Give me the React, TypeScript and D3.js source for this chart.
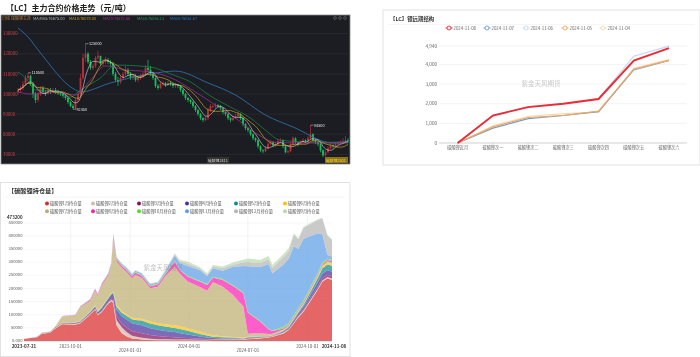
import React from "react";
import * as d3 from "d3";

// ---------- Panel 1: candles (thousand yuan per ton) ----------
const closes = [102,103,105,108,109,105,100,97,100,103,101,100,102,101.5,102,101,100.5,100,99,98,96,94,93,97,100,108,118,120,116,113,114,118,119,115,116,117,116,115,110,107,106,108,110,112,110,108,109,107,108,109,110,113,112,110,108,104,103,105,105.5,104.5,105.5,105,104,104.5,104,102,100,98,97,96,94,92,90,88,87,88,92,94,94,94.5,94,93,91,90,88,87,88,89,90,88,85,83,82,80,78,77,74,72,71.5,73,75,76,74.5,75,76.5,77,74,71,71.5,75,78,76,75,76,77,76.5,78,80,77,76,75,72,69.5,71,73,74.5,74,75,75.5,76,76.5,77,76.5];
const opens = [101,102,103,105,108,109,105,100,97,100,103,101,100,102,101,102,101,100.5,100,99,98,96,94,93,97,100,108,118,120,116,113,114,118,119,115,116,117,116,115,110,107,106,108,110,112,110,108,109,107,108,109,110,113,112,110,108,104,103,105,105.5,104.5,105.5,105,104,104.5,104,102,100,98,97,96,94,92,90,88,87,88,92,94,94,94.5,94,93,91,90,88,87,88,89,90,88,85,83,82,80,78,77,74,72,71.5,73,75,76,74.5,75,76.5,77,74,71,71.5,75,78,76,75,76,77,76.5,78,80,77,76,75,72,69.5,71,73,74.5,74,75,75.5,76,76.5,77];
const highs = [103,104,106.5,109.5,110.5,109.5,106,101,101,104,104,102,103,103,103,103,102,101,100.5,100,98.5,96.5,95,98,101,110,120,125,121,117,115,119,121.5,119,117.5,118.5,118,117,116,111,108.5,109,111,114,113,111,110,110,109,110,111,114.5,117,114,111,109,105,106,106.5,106,106.5,106.5,105.5,105.5,105,104.5,102.5,100.5,98.5,97.5,96.5,94.5,92.5,90.5,88.5,89,93,95,95,95.5,95,94.5,93.5,91.5,90.5,88.5,89,90,91,90.5,88.5,85.5,83.5,82.5,80.5,78.5,77.5,74.5,72.5,74,76,77,76.5,76,77.5,78,77.5,74.5,72,76,79,78.5,76,77,78,77.5,79,84.5,80.5,77.5,76.5,75.5,72.5,72,74,75.5,75,76,76.5,77,78,79,78];
const lows = [100,101,102,104,107,104,98,95.5,96,99,100,99,100,100,100.5,100,99.5,99,98,97,95,93.5,92.45,92.5,96,99,107,116,115,112,112,113,117,114,114,115,115,114,109,106,104,105,107,109,109,107,107,106,106,107,108,109,111,109,107,103,102,102.5,104,103.5,104,104,103,103,103,101,99,97,96,95,93,91,89,87,86,86.5,87,91,93,93,93,92,90,89,87,86,86.5,87.5,88,87,84,82,81,79,77,76,73,71,70.5,71,72.5,74.5,73.5,73.5,74.5,76,73,70.5,70.5,71,74.5,75,74,75,76,75.5,76,77,76,75,74,71,68.6,69,70.5,72.5,73,73.5,74.5,75,75.5,76,75.5];
// [candle index, value]
const ma60: [number, number][] = [[0,132.8],[4,128.4],[8,122],[23,102],[25,101],[37,105.5],[53,110],[63,111.4],[76,105.5],[87,99.5],[99,89.5],[110,83.6],[126,75.6],[132,76.6]];
const ma30: [number, number][] = [[0,111],[3,108],[7,102],[13,101.5],[21,98.5],[25,102],[33,108],[39,114.4],[53,113.4],[61,110],[69,106],[77,99],[85,93.5],[93,88],[99,82],[105,77],[121,76],[132,76]];
const ma20: [number, number][] = [[0,101],[5,100],[15,101],[23,99.5],[29,107],[35,114],[43,112],[53,111],[63,107],[71,101],[79,94.5],[87,88],[95,80.6],[103,76],[113,75.6],[132,75.6]];
const priceTicks = [130, 120, 110, 100, 90, 80, 70];
const maLegend = ["MA:MA5:76675.00", "MA10:76078.00", "MA20:74572.50", "MA30:75053.13", "MA60:75051.67"];
const priceNotes: [number, number, string][] = [[4, 110.5, "110500"], [27, 125, "125000"], [22, 92.45, "92450"], [117, 84.5, "84500"]];

// ---------- Panel 2: forward curve ----------
const curveCategories = ["碳酸锂近月", "碳酸锂次一", "碳酸锂次二", "碳酸锂次三", "碳酸锂次四", "碳酸锂次五", "碳酸锂次六"];
const curveTicks = [0, 1000, 2000, 3000, 4000, 4940];
const curve1108 = [0, 1400, 1830, 2000, 2240, 4200, 4830];
const curve1107 = [0, 760, 1240, 1400, 1600, 3720, 4200];
const curve1106 = [0, 1420, 1850, 2010, 2260, 4420, 4930];
const curve1105 = [0, 820, 1300, 1400, 1620, 3760, 4210];
const curve1104 = [0, 880, 1350, 1500, 1570, 3800, 4250];
const curveNames = ["2024-11-08", "2024-11-07", "2024-11-06", "2024-11-05", "2024-11-04"];

// ---------- Panel 3: open interest stack (thousand lots) ----------
const oiDates = ["2023-07-21","2023-08-10","2023-08-18","2023-08-30","2023-09-07","2023-09-18","2023-10-08","2023-10-16","2023-10-31","2023-11-08","2023-11-12","2023-11-18","2023-11-28","2023-12-03","2023-12-06","2023-12-11","2023-12-19","2023-12-27","2024-01-04","2024-01-09","2024-01-19","2024-02-01","2024-02-13","2024-02-24","2024-03-10","2024-03-18","2024-03-30","2024-04-18","2024-04-29","2024-05-08","2024-05-23","2024-06-08","2024-06-24","2024-07-01","2024-07-20","2024-08-02","2024-08-08","2024-08-25","2024-09-02","2024-09-10","2024-09-17","2024-09-25","2024-10-17","2024-10-24","2024-11-01","2024-11-08"];
const oiRows: number[][] = [
[8.5,1,0,.5,0,0,0,0,0,0,0,0],[14,1.5,0,1,0,0,0,0,0,0,0,0],[28,2,0,1,.5,.5,0,0,0,0,0,0],[31,2,0,1,1,.5,.5,0,0,0,0,0],[47,3,.5,1.5,.5,1,1.5,0,0,0,0,0],[64,3,.5,2,1,1.5,22.5,.5,0,0,0,0],
[62,3,.5,3,1,2,26,1.5,.5,.5,0,0],[68,3,.5,3,1,2,52,2.5,.5,.5,0,0],[100,3,1,5,1,2,41,4,1,1,0,0],[120,3,1,7,2,3,57,5,1,1,0,0],[98,3,1,8,2,3,58,5,1,1,0,0],[110,3,2,10,3,3,81,5,1,2,0,0],
[142,4,2,12,3,3,83,6,1,2,0,0],[152,5,4,16,3,3,105,7,2,3,0,0],[145,8,6,22,4,4,205,10,3,4,1,1],[60,20,15,25,12,6,165,8,3,4,1,1],[30,22,15,27,14,6,165,8,3,5,1,1],[17,16,18,30,14,6,160,8,3,5,2,1],
[10,10,18,30,15,6,150,8,3,5,2,1],[9,8,18,30,15,6,166,8,3,5,2,1],[6,6,18,30,18,7,156,8,3,5,2,1],[4,5,14,26,18,8,126,8,3,5,2,1],[3,4,12,24,17,8,139,8,3,5,2,1],[3,4,9,22,17,9,182,8,3,8,3,2],
[3,3,8,20,16,10,223,20,3,20,5,4],[3,3,6,18,16,10,200,14,3,24,7,5],[3,3,5,14,14,10,178,18,3,38,10,7],[3,2,4,8,10,8,171,20,3,42,6,4],[3,2,3,5,8,6,165,22,3,30,6,5],[4,2,2,3,5,6,202,18,3,32,7,6],
[4,2,1,3,4,4,190,25,3,32,9,7],[5,2,1,2,3,2,160,35,3,70,8,8],[5,2,1,1,1,2,120,50,4,100,14,10],[7,2,1,2,2,2,12,80,3,174,16,14],[10,2,1,2,2,1,12,44,3,205,15,12],[13,2,1,1,1,1,8,18,2,247,18,12],
[16,2,1,1,1,1,6,10,2,218,20,12],[29,3,2,3,2,2,3,4,6,238,28,12],[42,3,2,4,3,2,3,4,6,245,28,12],[67,3,3,6,4,3,2,4,7,262,45,5],[90,4,4,8,5,3,2,4,6,226,36,4],[112,4,5,10,7,3,3,5,6,235,42,4],
[195,5,8,16,16,5,4,5,6,151,50,3],[226,5,8,18,20,6,4,5,6,110,60,2],[239,5,8,18,22,8,4,5,5,15,73,2],[233,5,9,18,22,8,4,5,5,12,65,2],
];
const oiNames = ["碳酸锂1月持仓量","碳酸锂2月持仓量","碳酸锂3月持仓量","碳酸锂4月持仓量","碳酸锂5月持仓量","碳酸锂6月持仓量","碳酸锂7月持仓量","碳酸锂8月持仓量","碳酸锂10月持仓量","碳酸锂11月持仓量","碳酸锂12月持仓量","碳酸锂9月持仓量"];
const oiColors = ["#d92b2b","#d3bba6","#8b0f5f","#4b32a0","#0f8c96","#ffc000","#bdae72","#ff1fb4","#55dd22","#5da0e6","#b5b5b5","#b9dbab"];
const oiTicks = [0, 50, 100, 150, 200, 250, 300, 350, 400, 450];
const oiDateTicks = ["2023-10-01", "2024-01-01", "2024-04-01", "2024-07-01", "2024-10-01"];

const FONT = "'Noto Sans CJK SC', 'Noto Sans', sans-serif";

function Candles() {
  const y = d3.scaleLinear().domain([100, 130]).range([94, 33.7]);
  const x = d3.scaleLinear().domain([0, 132]).range([18, 348]);
  const line = d3.line<[number, number]>().x((d) => x(d[0])).y((d) => y(d[1])).curve(d3.curveMonotoneX);
  const rolling = (n: number): [number, number][] =>
    closes.map((_, i) => [i, d3.mean(closes.slice(Math.max(0, i - n + 1), i + 1)) as number]);
  const legendX = [33, 69, 103, 137, 170];
  const legendC = ["#b9b9b0", "#c9a21f", "#b0309a", "#1fa060", "#2e78b8"];
  return (
    <g>
      <rect x={1} y={15} width={349} height={149} fill="#1c1d22" stroke="#8a8a8a" strokeWidth={0.8} />
      {priceTicks.map((t) => (
        <g key={t}>
          <line x1={1} x2={350} y1={y(t)} y2={y(t)} stroke="#303137" strokeWidth={0.6} />
          <text x={3} y={y(t) + 1.6} fontSize={4.4} fill="#c24040" fontFamily={FONT}>{t * 1000}</text>
        </g>
      ))}
      <text x={2} y={19.5} fontSize={4} fill="#b5763a" fontFamily={FONT}>日线 碳酸锂主连</text>
      {maLegend.map((m, i) => (
        <text key={m} x={legendX[i]} y={19.5} fontSize={3.9} fill={legendC[i]} fontFamily={FONT}>{m}</text>
      ))}
      {closes.map((c, i) => {
        const o = opens[i] ?? c;
        const up = c >= o;
        const col = up ? "#b8323c" : "#18c060";
        const top = y(Math.max(o, c));
        const h = Math.max(0.7, Math.abs(y(o) - y(c)));
        return (
          <g key={i}>
            <line x1={x(i)} x2={x(i)} y1={y(highs[i] ?? Math.max(o, c))} y2={y(lows[i] ?? Math.min(o, c))} stroke={col} strokeWidth={0.7} />
            <rect x={x(i) - 0.9} y={top} width={1.8} height={h} fill={col} />
          </g>
        );
      })}
      <path d={line(ma60) as string} fill="none" stroke="#2a6ea8" strokeWidth={0.9} />
      <path d={line(ma30) as string} fill="none" stroke="#1c8a50" strokeWidth={0.7} />
      <path d={line(ma20) as string} fill="none" stroke="#a8309a" strokeWidth={0.7} />
      <path d={line(rolling(10)) as string} fill="none" stroke="#c9a21f" strokeWidth={0.7} />
      <path d={line(rolling(5)) as string} fill="none" stroke="#d8d8d8" strokeWidth={0.6} />
      {priceNotes.map(([i, v, s]) => (
        <g key={s}>
          <line x1={x(i)} x2={x(i) + 3} y1={y(v)} y2={y(v)} stroke="#ddd" strokeWidth={0.5} />
          <text x={x(i) + 3.5} y={y(v) + 1.4} fontSize={3.8} fill="#e4e4e4" fontFamily={FONT}>{s}</text>
        </g>
      ))}
      <rect x={207} y={157} width={22} height={6} fill="#333" />
      <text x={208} y={161.6} fontSize={3.8} fill="#cfcfcf" fontFamily={FONT}>碳酸锂2411</text>
      <rect x={325} y={157} width={23} height={6} fill="#8a7418" />
      <text x={326} y={161.6} fontSize={3.8} fill="#f2cf3a" fontFamily={FONT}>碳酸锂2501</text>
      {[335, 340, 345].map((cx) => (
        <circle key={cx} cx={cx} cy={18} r={1.4} fill="none" stroke="#777" strokeWidth={0.6} />
      ))}
    </g>
  );
}

function Curve() {
  const x = d3.scalePoint<string>().domain(curveCategories).range([457.7, 669]);
  const y = d3.scaleLinear().domain([0, 4940]).range([143, 46]);
  const line = d3.line<number>().x((_, i) => x(curveCategories[i]) as number).y((d) => y(d));
  const series = [
    { name: curveNames[4], v: curve1104, c: "#fbd5ad", w: 1.2 },
    { name: curveNames[2], v: curve1106, c: "#c6d6f0", w: 1.2 },
    { name: curveNames[1], v: curve1107, c: "#6a9fd0", w: 1.2 },
    { name: curveNames[3], v: curve1105, c: "#f0a860", w: 1.2 },
    { name: curveNames[0], v: curve1108, c: "#ee2a36", w: 1.9 },
  ];
  const legend = [series[4], series[2], series[1], series[3], series[0]];
  const legendX = [449, 487, 526, 565, 603];
  return (
    <g>
      <rect x={383} y={10} width={317} height={155} fill="#fff" stroke="#e2e2e2" strokeWidth={1} />
      <text x={390} y={20.5} fontSize={5.4} fontWeight={700} fill="#333" fontFamily={FONT}>【LC】锂远期结构</text>
      <line x1={388} x2={695} y1={24.5} y2={24.5} stroke="#f0f0f0" strokeWidth={0.6} />
      {legend.map((s, i) => (
        <g key={s.name}>
          <line x1={legendX[i] - 3.5} x2={legendX[i] + 3.5} y1={28} y2={28} stroke={s.c} strokeWidth={1} />
          <circle cx={legendX[i]} cy={28} r={2} fill="#fff" stroke={s.c} strokeWidth={0.9} />
          <text x={legendX[i] + 4.5} y={29.6} fontSize={4.4} fill="#666" fontFamily={FONT}>{s.name}</text>
        </g>
      ))}
      {curveTicks.map((t) => (
        <g key={t}>
          <line x1={439} x2={687} y1={y(t)} y2={y(t)} stroke={t === 0 ? "#bbb" : "#eee"} strokeWidth={0.7} />
          <text x={437} y={y(t) + 1.6} textAnchor="end" fontSize={4.6} fill="#666" fontFamily={FONT}>{d3.format(",")(t)}</text>
        </g>
      ))}
      <text x={541} y={85.5} textAnchor="middle" fontSize={6.5} fill="#c9c9c9" fontFamily={FONT}>紫金天风期货</text>
      {curveCategories.map((c) => (
        <g key={c}>
          <line x1={x(c)} x2={x(c)} y1={143} y2={145} stroke="#bbb" strokeWidth={0.5} />
          <text x={x(c)} y={149} textAnchor="middle" fontSize={4.2} fill="#666" fontFamily={FONT}>{c}</text>
        </g>
      ))}
      {series.map((s) => (
        <path key={s.name} d={line(s.v) as string} fill="none" stroke={s.c} strokeWidth={s.w} />
      ))}
    </g>
  );
}

function Stack() {
  const parse = d3.utcParse("%Y-%m-%d");
  const dates = oiDates.map((d) => parse(d) as Date);
  const x = d3.scaleUtc().domain([dates[0], dates[dates.length - 1]]).range([24, 332]);
  const y = d3.scaleLinear().domain([0, 450]).range([341, 223]);
  const keys = d3.range(oiNames.length);
  const stacked = d3.stack<number[], number>().keys(keys).value((row, k) => row[k])(oiRows);
  const area = d3.area<d3.SeriesPoint<number[]>>()
    .x((_, i) => x(dates[i])).y0((d) => y(d[0])).y1((d) => y(d[1]));
  const legendX = [47, 93, 139, 187, 236, 285];
  const rows = [[0, 1, 2, 3, 4, 5], [6, 7, 8, 9, 10, 11]];
  return (
    <g>
      <rect x={0.5} y={182.5} width={349.5} height={174} fill="#fff" stroke="#e2e2e2" strokeWidth={1} />
      <text x={8} y={193} fontSize={6.2} fontWeight={700} fill="#333" fontFamily={FONT}>【碳酸锂持仓量】</text>
      <line x1={5} x2={345} y1={197} y2={197} stroke="#eee" strokeWidth={0.6} />
      {rows.map((r, ri) =>
        r.map((k, ci) => (
          <g key={k}>
            <circle cx={legendX[ci]} cy={203.5 + ri * 7.8} r={2} fill={oiColors[k]} />
            <text x={legendX[ci] + 3} y={205 + ri * 7.8} fontSize={4.2} fill="#555" fontFamily={FONT}>{oiNames[k]}</text>
          </g>
        ))
      )}
      {oiTicks.map((t) => (
        <g key={t}>
          <line x1={24} x2={332} y1={y(t)} y2={y(t)} stroke="#eeeeee" strokeWidth={0.5} />
          <text x={22.5} y={y(t) + 1} textAnchor="end" fontSize={4.2} fill="#555" fontFamily={FONT}>{t === 0 ? "0.000" : `${t}000`}</text>
        </g>
      ))}
      <text x={22.5} y={218.5} textAnchor="end" fontSize={4.4} fontWeight={700} fill="#333" fontFamily={FONT}>473200</text>
      {oiDateTicks.map((d, i) => {
        const dx = x(parse(d) as Date);
        return (
          <g key={d}>
            <line x1={dx} x2={dx} y1={216} y2={341} stroke="#e6e6e6" strokeWidth={0.5} />
            <text x={dx} y={i % 2 ? 352 : 347.5} textAnchor="middle" fontSize={4.4} fill="#555" fontFamily={FONT}>{d}</text>
          </g>
        );
      })}
      {stacked.map((s, k) => (
        <path key={k} d={area(s) as string} fill={oiColors[k]} fillOpacity={0.72} stroke="#fff" strokeOpacity={0.15} strokeWidth={0.2} />
      ))}
      <line x1={24} x2={332} y1={341} y2={341} stroke="#999" strokeWidth={0.5} />
      <text x={163} y={270} textAnchor="middle" fontSize={6.5} fill="#7a7a7a" fillOpacity={0.45} fontFamily={FONT}>紫金天风期货</text>
      <text x={24} y={347.8} textAnchor="middle" fontSize={4.5} fontWeight={700} fill="#333" fontFamily={FONT}>2023-07-21</text>
      <text x={334} y={347.8} textAnchor="middle" fontSize={4.5} fontWeight={700} fill="#333" fontFamily={FONT}>2024-11-08</text>
    </g>
  );
}

export default function App() {
  return (
    <svg width={700} height={357} viewBox="0 0 700 357"
      style={{ position: "fixed", left: 0, top: 0, display: "block", background: "#fff", filter: "blur(0.4px)" }}>
      <text x={6} y={10.5} fontSize={8} fontWeight={700} fill="#222" fontFamily={FONT}>【LC】主力合约价格走势（元/吨）</text>
      <Candles />
      <Curve />
      <Stack />
    </svg>
  );
}
